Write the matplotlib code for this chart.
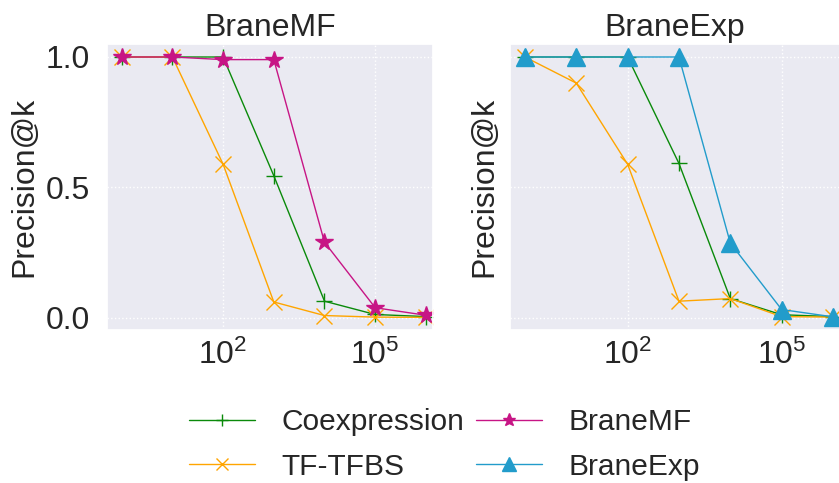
import matplotlib
matplotlib.use("Agg")
import matplotlib.pyplot as plt
import seaborn as sns
import numpy as np

sns.set_theme(style="darkgrid")
plt.rcParams['font.family'] = ['Liberation Sans', 'DejaVu Sans']
plt.rcParams['mathtext.fontset'] = 'custom'
plt.rcParams['mathtext.rm'] = 'Liberation Sans'
plt.rcParams['mathtext.it'] = 'Liberation Sans:italic'
plt.rcParams['mathtext.bf'] = 'Liberation Sans:bold'

k_values = [1, 10, 100, 1000, 10000, 100000, 1000000]

# Left panel: BraneMF
left_coexpression = [1.0, 1.0, 1.0, 0.545, 0.064, 0.013, 0.005]
left_tftfbs = [1.0, 1.0, 0.589, 0.061, 0.009, 0.003, 0.002]
left_branemf = [1.0, 1.0, 0.99, 0.99, 0.29, 0.039, 0.01]

# Right panel: BraneExp
right_coexpression = [1.0, 1.0, 1.0, 0.592, 0.074, 0.012, 0.005]
right_tftfbs = [1.0, 0.90, 0.589, 0.064, 0.074, 0.005, 0.003]
right_braneexp = [1.0, 1.0, 1.0, 1.0, 0.287, 0.032, 0.004]

titles = ["BraneMF", "BraneExp"]
labels = ["Coexpression", "TF-TFBS", "BraneMF", "BraneExp"]
colors = {"Coexpression": "#0a8a0a", "TF-TFBS": "#FFA500",
          "BraneMF": "#C71585", "BraneExp": "#229CCB"}
markers = {"Coexpression": "+", "TF-TFBS": "x", "BraneMF": "*", "BraneExp": "^"}
msizes = {"Coexpression": 12, "TF-TFBS": 12, "BraneMF": 13, "BraneExp": 13}

fig = plt.figure(figsize=(8.39, 4.83), dpi=100)
ax1 = fig.add_axes([0.1275, 0.317, 0.3886, 0.592])
ax2 = fig.add_axes([0.6079, 0.317, 0.3935, 0.592], sharey=ax1)

panels = [
    (ax1, [("Coexpression", left_coexpression), ("TF-TFBS", left_tftfbs), ("BraneMF", left_branemf)]),
    (ax2, [("Coexpression", right_coexpression), ("TF-TFBS", right_tftfbs), ("BraneExp", right_braneexp)]),
]

handles = {}
for (ax, series), title in zip(panels, titles):
    for name, vals in series:
        ln, = ax.plot(k_values, vals, color=colors[name], marker=markers[name],
                      markersize=msizes[name], linewidth=1.0, label=name)
        handles[name] = ln
    ax.set_xscale('log')
    ax.set_xlim(10 ** -0.29, 10 ** 6.14)
    ax.set_ylim(-0.046, 1.05)
    ax.set_xticks([1e2, 1e5])
    ax.xaxis.set_minor_locator(matplotlib.ticker.NullLocator())
    ax.set_yticks([0.0, 0.5, 1.0])
    ax.set_title(title, fontsize=23, color="#262626")
    ax.tick_params(axis='both', labelsize=23, colors="#262626", length=0)
    ax.tick_params(axis='y', pad=12)
    ax.tick_params(axis='x', pad=7)
    ax.grid(True, linestyle=':', linewidth=1.0, color='white')

ax1.set_ylabel("Precision@k", fontsize=23, color="#262626", labelpad=5)
ax2.set_ylabel("Precision@k", fontsize=23, color="#262626", labelpad=8)
plt.setp(ax2.get_yticklabels(), visible=False)

leg = fig.legend([handles[n] for n in labels], labels, loc='center',
                 bbox_to_anchor=(0.53, 0.08), ncol=2, frameon=False,
                 fontsize=21.5, handlelength=2.2, handletextpad=0.9,
                 columnspacing=0.4, labelspacing=0.55, markerscale=0.75)
for t in leg.get_texts():
    t.set_color("#262626")

fig.savefig("out.png", dpi=100)
